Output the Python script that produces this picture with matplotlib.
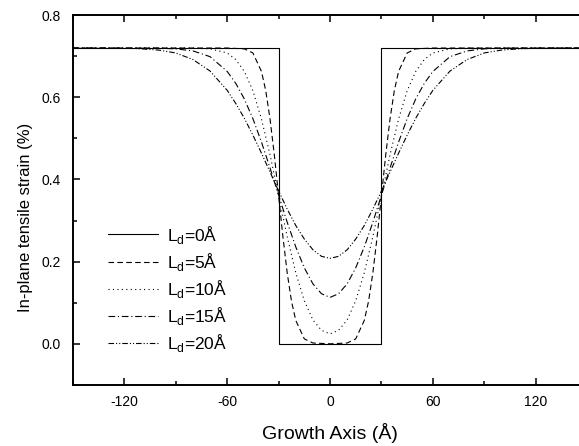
import numpy as np
import matplotlib.pyplot as plt
from matplotlib.ticker import MultipleLocator

plt.rcParams['font.family'] = ['Liberation Sans', 'DejaVu Sans']
plt.rcParams['mathtext.fontset'] = 'custom'
plt.rcParams['mathtext.rm'] = 'Liberation Sans'

# strain profiles (half profile z >= 0, symmetric about z = 0)
z0 = [-150, -30, -30, 30, 30, 150]
s0 = [0.72, 0.72, 0.0, 0.0, 0.72, 0.72]

z5 = [0, 10, 15, 20, 22.5, 25, 27.5, 30, 32.5, 35, 37.5, 40, 45, 50, 60, 150]
s5 = [0.0, 0.002, 0.012, 0.057, 0.104, 0.173, 0.261, 0.36, 0.46, 0.547, 0.616, 0.663, 0.708, 0.718, 0.72, 0.72]

z10 = [0, 5, 10, 15, 20, 25, 30, 35, 40, 45, 50, 55, 60, 70, 80, 150]
s10 = [0.024, 0.033, 0.058, 0.105, 0.173, 0.261, 0.36, 0.46, 0.547, 0.616, 0.663, 0.692, 0.708, 0.718, 0.72, 0.72]

z15 = [0, 5, 10, 15, 20, 25, 30, 35, 40, 45, 50, 55, 60, 70, 80, 90, 100, 150]
s15 = [0.113, 0.122, 0.146, 0.185, 0.236, 0.296, 0.362, 0.428, 0.491, 0.548, 0.596, 0.634, 0.663, 0.699, 0.713, 0.718, 0.7196, 0.72]

z20 = [0, 5, 10, 15, 20, 25, 30, 35, 40, 45, 50, 55, 60, 70, 80, 90, 100, 110, 120, 150]
s20 = [0.208, 0.213, 0.229, 0.255, 0.288, 0.328, 0.372, 0.418, 0.464, 0.508, 0.549, 0.585, 0.617, 0.664, 0.692, 0.708, 0.715, 0.718, 0.7195, 0.72]

labels = ['L$_\\mathregular{d}$=0Å', 'L$_\\mathregular{d}$=5Å', 'L$_\\mathregular{d}$=10Å',
          'L$_\\mathregular{d}$=15Å', 'L$_\\mathregular{d}$=20Å']


def full(z, s):
    z = np.array(z, dtype=float)
    s = np.array(s, dtype=float)
    return np.concatenate([-z[::-1], z[1:]]), np.concatenate([s[::-1], s[1:]])


fig = plt.figure(figsize=(5.79, 4.46), dpi=100)
ax = fig.add_axes([0.126, 0.137, 0.888, 0.829])

lw = 0.8
ax.plot(z0, s0, color='black', lw=lw, ls='-', label=labels[0])
x, y = full(z5, s5)
ax.plot(x, y, color='black', lw=lw, ls=(0, (5, 3)), label=labels[1])
x, y = full(z10, s10)
ax.plot(x, y, color='black', lw=lw, ls=(0, (1, 3)), label=labels[2])
x, y = full(z15, s15)
ax.plot(x, y, color='black', lw=lw, ls=(0, (6, 2.5, 1, 2.5)), label=labels[3])
x, y = full(z20, s20)
ax.plot(x, y, color='black', lw=lw, ls=(0, (5, 1.8, 1, 1.8, 1, 1.8)), label=labels[4])

ax.set_xlim(-150, 150)
ax.set_ylim(-0.1, 0.8)
ax.xaxis.set_minor_locator(MultipleLocator(30))
ax.yaxis.set_minor_locator(MultipleLocator(0.1))
ax.set_xticks([-120, -60, 0, 60, 120])
ax.set_xticklabels(['-120', '-60', '0', '60', '120'])
ax.set_yticks([0.0, 0.2, 0.4, 0.6, 0.8])
ax.set_yticklabels(['0.0', '0.2', '0.4', '0.6', '0.8'])
ax.tick_params(which='both', direction='in', top=True, right=False, labelsize=10, width=1.1)
ax.tick_params(axis='y', which='major', length=5, pad=9)
ax.tick_params(axis='x', which='major', length=5, pad=7)
ax.tick_params(which='minor', length=3)
for sp in ax.spines.values():
    sp.set_linewidth(1.4)

ax.set_xlabel('Growth Axis (Å)', fontsize=14, labelpad=10)
ax.set_ylabel('In-plane tensile strain (%)', fontsize=12)
ax.yaxis.set_label_coords(-0.078, 0.454)

ax.legend(loc='upper left', bbox_to_anchor=(0.052, 0.46), frameon=False, fontsize=12.5,
          handlelength=2.87, handletextpad=0.5, labelspacing=0.3, borderpad=0)

fig.savefig('out.png', dpi=100)
